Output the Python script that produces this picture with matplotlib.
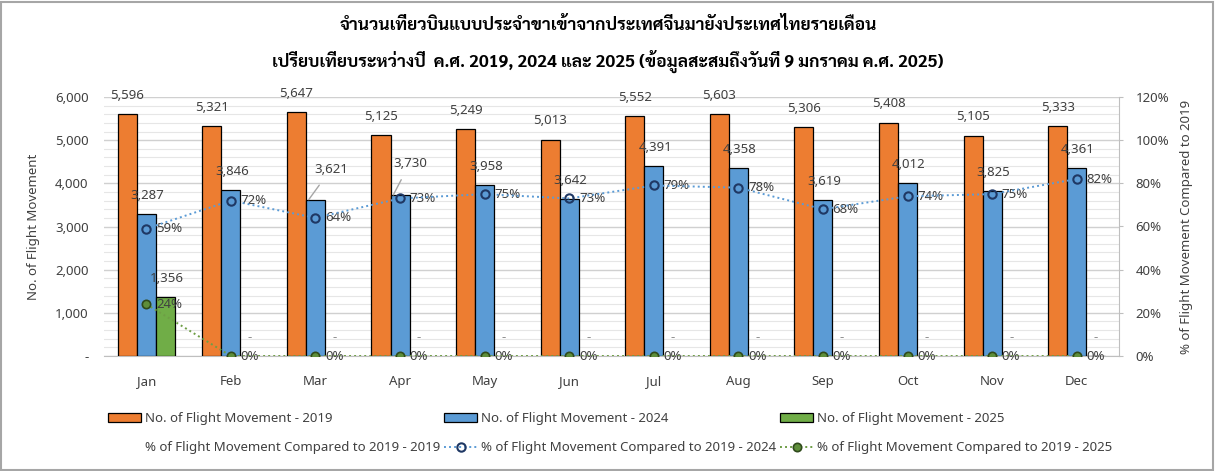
import matplotlib
matplotlib.use("Agg")
import matplotlib.pyplot as plt
from matplotlib import font_manager
from matplotlib.patches import Patch, Rectangle
from matplotlib.lines import Line2D
from matplotlib.ticker import FuncFormatter, MultipleLocator
import numpy as np

# ---------------- data ----------------
months = ["Jan", "Feb", "Mar", "Apr", "May", "Jun", "Jul", "Aug", "Sep", "Oct", "Nov", "Dec"]
flights_2019 = [5596, 5321, 5647, 5125, 5249, 5013, 5552, 5603, 5306, 5408, 5105, 5333]
flights_2024 = [3287, 3846, 3621, 3730, 3958, 3642, 4391, 4358, 3619, 4012, 3825, 4361]
flights_2025 = [1356, 0, 0, 0, 0, 0, 0, 0, 0, 0, 0, 0]
pct_2024 = [0.59, 0.72, 0.64, 0.73, 0.75, 0.73, 0.79, 0.78, 0.68, 0.74, 0.75, 0.82]
pct_2025 = [0.24, 0, 0, 0, 0, 0, 0, 0, 0, 0, 0, 0]

title_line1 = "จำนวนเที่ยวบินแบบประจำขาเข้าจากประเทศจีนมายังประเทศไทยรายเดือน"
title_line2 = "เปรียบเทียบระหว่างปี  ค.ศ. 2019, 2024 และ 2025 (ข้อมูลสะสมถึงวันที่ 9 มกราคม ค.ศ. 2025)"
left_label = "No. of Flight Movement"
right_label = "% of Flight Movement Compared to 2019"
legend_labels = ["No. of Flight Movement - 2019",
                 "% of Flight Movement Compared to 2019 - 2019",
                 "No. of Flight Movement - 2024",
                 "% of Flight Movement Compared to 2019 - 2024",
                 "No. of Flight Movement - 2025",
                 "% of Flight Movement Compared to 2019 - 2025"]

# ---------------- fonts ----------------
avail = set(f.name for f in font_manager.fontManager.ttflist)
def pick(cands):
    return [c for c in cands if c in avail]
thai_fonts = pick(["Sarabun", "Noto Sans Thai Looped", "Noto Sans Thai", "Anuphan"])
latin = pick(["Noto Sans", "DejaVu Sans"])[0]
plt.rcParams['font.family'] = [latin] + thai_fonts + ["DejaVu Sans"]

C19 = "#ED7D31"
C24 = "#5B9BD5"
C25 = "#70AD47"
TXT = "#404040"

W, H = 1216, 471
fig = plt.figure(figsize=(W / 100, H / 100), dpi=100)
ax = fig.add_axes([104 / W, (H - 356) / H, (1119 - 104) / W, (356 - 97) / H])
ax2 = ax.twinx()

x = np.arange(len(months))
bw = 0.225
ax.bar(x - bw, flights_2019, bw, color=C19, edgecolor="black", linewidth=0.9, zorder=3)
ax.bar(x, flights_2024, bw, color=C24, edgecolor="black", linewidth=0.9, zorder=3)
ax.bar(x + bw, flights_2025, bw, color=C25, edgecolor="black", linewidth=0.9, zorder=3)

ax.set_xlim(-0.5, len(months) - 0.5)
ax.set_ylim(0, 6000)
ax.yaxis.set_major_locator(MultipleLocator(1000))
ax.yaxis.set_minor_locator(MultipleLocator(200))
ax.yaxis.set_major_formatter(FuncFormatter(lambda v, p: "-" if v == 0 else f"{int(v):,}"))
ax.grid(axis="y", which="major", color="#D0D0D0", linewidth=1.0, zorder=0)
ax.grid(axis="y", which="minor", color="#E6E6E6", linewidth=0.8, zorder=0)
ax.set_axisbelow(True)
ax.set_xticks(x)
ax.set_xticklabels(months)
fs = 9.5
ax.tick_params(axis="x", length=0, pad=14, labelsize=fs, labelcolor=TXT)
ax.tick_params(axis="y", which="both", length=0, pad=11, labelsize=fs, labelcolor=TXT)
for s in ["top", "left", "right"]:
    ax.spines[s].set_visible(False)
ax.spines["bottom"].set_color("#BFBFBF")
ax.set_ylabel(left_label, fontsize=fs, color=TXT, labelpad=11)

ax2.set_ylim(0, 1.2)
ax2.yaxis.set_major_locator(MultipleLocator(0.2))
ax2.yaxis.set_major_formatter(FuncFormatter(lambda v, p: f"{v*100:.0f}%"))
ax2.tick_params(axis="y", length=3, color="#BFBFBF", pad=9, labelsize=fs, labelcolor=TXT)
for s in ["top", "left", "bottom"]:
    ax2.spines[s].set_visible(False)
ax2.spines["right"].set_color("#BFBFBF")
ax2.set_ylabel(right_label, fontsize=fs, color=TXT, labelpad=8)

L24 = dict(linestyle=(0, (1, 1.6)), color=C24, linewidth=1.4, marker="o", markersize=6,
           markerfacecolor="none", markeredgecolor="#1F3864", markeredgewidth=1.5)
L25 = dict(linestyle=(0, (1, 1.6)), color="#6E9E45", linewidth=1.4, marker="o", markersize=6,
           markerfacecolor="#5E8E3A", markeredgecolor="#2F4A1C", markeredgewidth=1.2)
ax2.plot(x, pct_2024, zorder=5, **L24)
ax2.plot(x, pct_2025, zorder=5, **L25)

# value labels
lab_kw = dict(fontsize=fs, color=TXT, ha="center", va="center", textcoords="offset points")
for i in range(len(months)):
    ax.annotate(f"{flights_2019[i]:,}", (x[i] - bw, flights_2019[i]), xytext=(0, 13.5), **lab_kw)
    if months[i] == "Mar":
        ax.annotate(f"{flights_2024[i]:,}", (x[i] - 0.08, flights_2024[i]), xytext=(16, 22),
                    arrowprops=dict(arrowstyle="-", color="#A6A6A6", lw=1, shrinkA=6, shrinkB=0), **lab_kw)
    elif months[i] == "Apr":
        ax.annotate(f"{flights_2024[i]:,}", (x[i] - 0.08, flights_2024[i]), xytext=(12, 23),
                    arrowprops=dict(arrowstyle="-", color="#A6A6A6", lw=1, shrinkA=6, shrinkB=0), **lab_kw)
    else:
        ax.annotate(f"{flights_2024[i]:,}", (x[i], flights_2024[i]), xytext=(1, 13.5), **lab_kw)
    v = flights_2025[i]
    if v == 0:
        ax.annotate("-", (x[i] + bw, v), xytext=(0, 13.5), **{**lab_kw, "color": "#8C8C8C"})
    else:
        ax.annotate(f"{v:,}", (x[i] + bw, v), xytext=(1, 13.5), **lab_kw)
    ax2.annotate(f"{pct_2024[i]*100:.0f}%", (x[i], pct_2024[i]), xytext=(7, 0),
                 **{**lab_kw, "ha": "left"})
    ax2.annotate(f"{pct_2025[i]*100:.0f}%", (x[i], pct_2025[i]), xytext=(7, 0),
                 **{**lab_kw, "ha": "left"})

# titles
fig.text(0.5, 1 - 26 / H, title_line1, ha="center", va="center", fontsize=12.5,
         fontweight="bold", color="#000000", family=thai_fonts + [latin])
fig.text(0.5, 1 - 61 / H, title_line2, ha="center", va="center", fontsize=12.5,
         fontweight="bold", color="#000000", family=thai_fonts + [latin])

# legend
handles = [Patch(facecolor=C19, edgecolor="black", linewidth=0.9),
           Line2D([], [], linestyle="none"),
           Patch(facecolor=C24, edgecolor="black", linewidth=0.9),
           Line2D([], [], **L24),
           Patch(facecolor=C25, edgecolor="black", linewidth=0.9),
           Line2D([], [], **L25)]
leg = fig.legend(handles, legend_labels, ncol=3, loc="upper left",
                 bbox_to_anchor=(108 / W, 1 - 412 / H), frameon=False, fontsize=fs,
                 handlelength=2.5, handletextpad=0.3, columnspacing=0.3, labelspacing=1.25,
                 borderpad=0, borderaxespad=0, labelcolor=TXT)

# frame
fig.add_artist(Rectangle((1 / W, 1 / H), (1212) / W, (468) / H, transform=fig.transFigure,
                         fill=False, edgecolor="#A6A6A6", linewidth=1.5))

fig.savefig("out.png", dpi=100)
